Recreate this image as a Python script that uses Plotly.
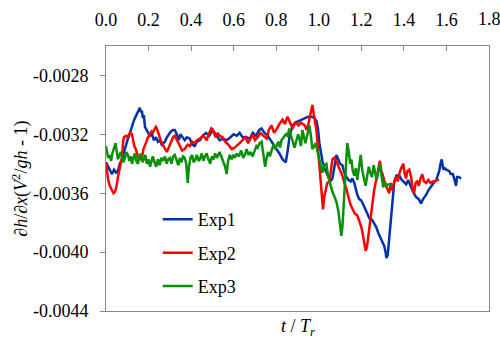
import plotly.graph_objects as go

# ---------------- data ----------------
t1 = [0.000,0.010,0.020,0.028,0.038,0.048,0.056,0.065,0.075,0.082,0.089,0.096,0.103,0.113,0.122,0.130,0.136,0.142,0.150,0.155,
      0.159,0.164,0.169,0.173,0.178,0.183,0.190,0.197,0.206,0.216,0.225,0.235,0.244,0.253,0.262,0.270,0.277,0.286,0.295,0.305,
      0.315,0.323,0.333,0.342,0.350,0.360,0.370,0.380,0.394,0.405,0.417,0.427,0.441,0.455,0.470,0.485,0.502,0.515,0.534,0.550,
      0.567,0.585,0.600,0.615,0.628,0.642,0.660,0.675,0.690,0.705,0.720,0.731,0.745,0.760,0.769,0.780,0.800,0.815,0.830,0.845,
      0.855,0.862,0.877,0.890,0.905,0.920,0.935,0.950,0.965,0.980,0.989,0.996,1.003,1.010,1.017,1.027,1.036,1.045,1.055,1.064,
      1.073,1.083,1.092,1.100,1.111,1.120,1.130,1.140,1.150,1.158,1.167,1.175,1.181,1.190,1.200,1.210,1.220,1.228,1.238,1.250,
      1.261,1.270,1.280,1.290,1.300,1.308,1.314,1.318,1.324,1.330,1.336,1.341,1.345,1.350,1.355,1.365,1.378,1.390,1.402,1.411,
      1.420,1.430,1.440,1.450,1.460,1.470,1.481,1.490,1.505,1.515,1.528,1.540,1.552,1.560,1.566,1.572,1.578,1.585,1.592,1.600,
      1.613,1.620,1.630,1.640,1.645,1.650,1.658,1.669]
v1 = [-3.39,-3.42,-3.45,-3.47,-3.44,-3.46,-3.45,-3.40,-3.37,-3.33,-3.31,-3.25,-3.23,-3.19,-3.14,-3.11,-3.09,-3.07,-3.05,-3.03,
      -3.02,-3.05,-3.04,-3.09,-3.07,-3.15,-3.17,-3.19,-3.21,-3.20,-3.24,-3.22,-3.25,-3.24,-3.27,-3.26,-3.25,-3.22,-3.20,-3.18,
      -3.17,-3.17,-3.20,-3.24,-3.20,-3.22,-3.24,-3.22,-3.23,-3.27,-3.28,-3.25,-3.24,-3.21,-3.19,-3.21,-3.17,-3.20,-3.24,-3.23,
      -3.24,-3.22,-3.20,-3.21,-3.19,-3.22,-3.22,-3.23,-3.19,-3.21,-3.17,-3.16,-3.19,-3.21,-3.23,-3.25,-3.30,-3.33,-3.37,-3.39,
      -3.30,-3.22,-3.14,-3.12,-3.11,-3.10,-3.09,-3.08,-3.08,-3.09,-3.11,-3.16,-3.26,-3.33,-3.38,-3.43,-3.46,-3.49,-3.52,-3.50,
      -3.42,-3.34,-3.37,-3.40,-3.41,-3.46,-3.49,-3.51,-3.52,-3.50,-3.53,-3.58,-3.61,-3.64,-3.65,-3.68,-3.71,-3.74,-3.77,-3.78,
      -3.81,-3.83,-3.87,-3.90,-3.94,-3.96,-4.00,-4.04,-4.02,-3.93,-3.84,-3.76,-3.68,-3.60,-3.52,-3.48,-3.48,-3.51,-3.53,-3.54,
      -3.51,-3.55,-3.58,-3.61,-3.63,-3.64,-3.67,-3.64,-3.61,-3.58,-3.55,-3.53,-3.51,-3.47,-3.45,-3.40,-3.37,-3.44,-3.43,-3.44,
      -3.45,-3.47,-3.47,-3.52,-3.55,-3.49,-3.49,-3.50]

t2 = [0.000,0.005,0.010,0.018,0.028,0.035,0.042,0.050,0.056,0.065,0.075,0.080,0.084,0.092,0.100,0.108,0.115,0.122,0.127,0.133,
      0.140,0.145,0.152,0.160,0.169,0.176,0.183,0.190,0.197,0.206,0.214,0.220,0.228,0.234,0.239,0.248,0.257,0.267,0.277,0.286,
      0.295,0.305,0.315,0.323,0.333,0.347,0.358,0.370,0.384,0.394,0.405,0.417,0.427,0.441,0.455,0.464,0.473,0.485,0.495,0.502,
      0.515,0.525,0.534,0.548,0.560,0.575,0.591,0.605,0.614,0.628,0.642,0.655,0.668,0.680,0.690,0.700,0.713,0.725,0.740,0.755,
      0.765,0.778,0.790,0.800,0.815,0.830,0.840,0.853,0.865,0.877,0.890,0.905,0.915,0.925,0.935,0.942,0.950,0.958,0.965,0.970,
      0.976,0.983,0.989,0.994,1.000,1.005,1.010,1.015,1.020,1.026,1.033,1.040,1.050,1.058,1.064,1.072,1.083,1.090,1.100,1.111,
      1.120,1.130,1.140,1.150,1.160,1.170,1.181,1.192,1.200,1.207,1.214,1.220,1.226,1.232,1.238,1.245,1.252,1.260,1.270,1.280,
      1.287,1.294,1.300,1.310,1.320,1.331,1.338,1.345,1.355,1.364,1.372,1.380,1.390,1.397,1.404,1.410,1.416,1.425,1.434,1.440,
      1.448,1.455,1.463,1.470,1.478,1.486,1.495,1.505,1.515,1.525,1.535,1.545,1.556,1.566]
v2 = [-3.39,-3.45,-3.51,-3.55,-3.58,-3.60,-3.59,-3.55,-3.49,-3.42,-3.36,-3.26,-3.22,-3.21,-3.22,-3.20,-3.19,-3.20,-3.25,-3.28,
      -3.30,-3.32,-3.36,-3.37,-3.36,-3.30,-3.28,-3.25,-3.22,-3.20,-3.18,-3.19,-3.16,-3.15,-3.16,-3.21,-3.24,-3.27,-3.30,-3.32,
      -3.29,-3.25,-3.22,-3.21,-3.24,-3.28,-3.31,-3.30,-3.27,-3.28,-3.25,-3.26,-3.24,-3.23,-3.21,-3.22,-3.24,-3.19,-3.16,-3.17,
      -3.22,-3.19,-3.21,-3.22,-3.25,-3.27,-3.30,-3.29,-3.28,-3.26,-3.24,-3.22,-3.26,-3.23,-3.20,-3.24,-3.22,-3.19,-3.21,-3.23,
      -3.17,-3.14,-3.19,-3.17,-3.13,-3.10,-3.13,-3.08,-3.12,-3.16,-3.12,-3.14,-3.12,-3.13,-3.14,-3.17,-3.14,-3.08,-3.02,-3.00,
      -3.06,-3.12,-3.17,-3.26,-3.36,-3.47,-3.55,-3.65,-3.71,-3.62,-3.58,-3.53,-3.52,-3.42,-3.37,-3.36,-3.38,-3.41,-3.44,-3.48,
      -3.53,-3.57,-3.63,-3.68,-3.71,-3.74,-3.75,-3.79,-3.83,-3.88,-3.93,-3.99,-3.97,-3.90,-3.82,-3.74,-3.66,-3.58,-3.51,-3.43,
      -3.38,-3.45,-3.47,-3.53,-3.57,-3.60,-3.53,-3.58,-3.52,-3.49,-3.52,-3.46,-3.42,-3.40,-3.47,-3.50,-3.45,-3.44,-3.49,-3.56,
      -3.60,-3.53,-3.52,-3.55,-3.50,-3.47,-3.52,-3.53,-3.51,-3.53,-3.52,-3.52,-3.51,-3.51]

t3 = [0.000,0.005,0.010,0.017,0.024,0.030,0.038,0.045,0.052,0.056,0.063,0.070,0.075,0.082,0.089,0.096,0.103,0.110,0.117,0.122,
      0.129,0.136,0.142,0.150,0.157,0.164,0.172,0.178,0.185,0.192,0.200,0.207,0.214,0.220,0.228,0.236,0.244,0.252,0.260,0.268,
      0.277,0.285,0.292,0.300,0.308,0.315,0.323,0.331,0.340,0.347,0.355,0.362,0.370,0.377,0.384,0.390,0.397,0.405,0.412,0.420,
      0.427,0.435,0.441,0.450,0.458,0.465,0.473,0.481,0.490,0.497,0.505,0.513,0.521,0.534,0.542,0.550,0.560,0.567,0.574,0.582,
      0.590,0.598,0.606,0.614,0.625,0.635,0.645,0.655,0.661,0.670,0.680,0.689,0.698,0.707,0.713,0.722,0.731,0.740,0.748,0.755,
      0.762,0.770,0.778,0.787,0.795,0.802,0.810,0.818,0.825,0.835,0.845,0.853,0.862,0.870,0.877,0.886,0.895,0.903,0.909,0.916,
      0.923,0.930,0.937,0.942,0.949,0.956,0.962,0.970,0.978,0.985,0.993,1.003,1.010,1.017,1.025,1.036,1.043,1.050,1.058,1.064,
      1.073,1.083,1.092,1.097,1.102,1.106,1.111,1.116,1.120,1.125,1.130,1.134,1.140,1.148,1.153,1.160,1.167,1.174,1.181,1.190,
      1.197,1.205,1.212,1.220,1.228,1.235,1.242,1.250,1.258,1.265,1.272,1.280,1.288,1.295,1.303,1.310,1.318,1.325,1.331,1.340]
v3 = [-3.28,-3.31,-3.36,-3.34,-3.38,-3.33,-3.30,-3.26,-3.33,-3.37,-3.34,-3.32,-3.36,-3.39,-3.36,-3.32,-3.34,-3.38,-3.35,-3.40,
      -3.36,-3.33,-3.38,-3.40,-3.35,-3.33,-3.39,-3.36,-3.34,-3.40,-3.37,-3.42,-3.37,-3.35,-3.39,-3.42,-3.37,-3.41,-3.36,-3.38,
      -3.35,-3.40,-3.37,-3.36,-3.40,-3.35,-3.34,-3.38,-3.41,-3.36,-3.39,-3.35,-3.36,-3.40,-3.53,-3.42,-3.36,-3.34,-3.39,-3.37,
      -3.34,-3.38,-3.37,-3.33,-3.38,-3.35,-3.33,-3.37,-3.40,-3.35,-3.37,-3.33,-3.36,-3.32,-3.35,-3.38,-3.42,-3.47,-3.38,-3.34,
      -3.37,-3.34,-3.36,-3.33,-3.35,-3.31,-3.36,-3.33,-3.30,-3.34,-3.32,-3.35,-3.31,-3.28,-3.29,-3.26,-3.25,-3.36,-3.42,-3.36,
      -3.32,-3.35,-3.31,-3.27,-3.30,-3.28,-3.25,-3.29,-3.24,-3.22,-3.20,-3.21,-3.16,-3.21,-3.24,-3.29,-3.24,-3.20,-3.23,-3.28,
      -3.17,-3.22,-3.26,-3.23,-3.19,-3.14,-3.20,-3.30,-3.28,-3.26,-3.31,-3.38,-3.41,-3.46,-3.41,-3.40,-3.48,-3.52,-3.56,-3.59,
      -3.62,-3.66,-3.72,-3.77,-3.83,-3.89,-3.83,-3.71,-3.62,-3.49,-3.37,-3.26,-3.31,-3.40,-3.37,-3.45,-3.48,-3.43,-3.51,-3.40,
      -3.34,-3.45,-3.50,-3.55,-3.48,-3.42,-3.46,-3.49,-3.41,-3.47,-3.51,-3.45,-3.40,-3.48,-3.56,-3.52,-3.55,-3.54,-3.54,-3.55]

series_names = ["Exp1", "Exp2", "Exp3"]
series_colors = ["#0032A8", "#FF0000", "#0A900A"]
y_tick_vals = [-0.0044, -0.0040, -0.0036, -0.0032, -0.0028]
y_tick_text = ["-0.0044", "-0.0040", "-0.0036", "-0.0032", "-0.0028"]
x_tick_vals = [0.0, 0.2, 0.4, 0.6, 0.8, 1.0, 1.2, 1.4, 1.6, 1.8]
x_tick_text = ["0.0", "0.2", "0.4", "0.6", "0.8", "1.0", "1.2", "1.4", "1.6", "1.8"]

FONT = "Times New Roman"
AX = "#888888"

fig = go.Figure()
for i, (tt, vv) in enumerate([(t1, v1), (t2, v2), (t3, v3)]):
    fig.add_trace(go.Scatter(
        x=tt, y=[v * 1e-3 for v in vv], mode="lines", name=series_names[i],
        legendgroup=series_names[i],
        line=dict(color=series_colors[i], width=2.5),
    ))

fig.update_layout(
    width=500, height=343,
    margin=dict(l=106, r=10, t=42, b=32),
    paper_bgcolor="white", plot_bgcolor="white",
    font=dict(family=FONT, size=18, color="black"),
    showlegend=True,
    legend=dict(x=0.135, y=0.415, xanchor="left", yanchor="top",
                bgcolor="rgba(0,0,0,0)", font=dict(family=FONT, size=18),
                tracegroupgap=7, itemwidth=30),
    xaxis=dict(range=[0, 1.8], side="top", tickvals=x_tick_vals[:-1], ticktext=x_tick_text[:-1],
               ticks="inside", ticklen=5, tickcolor=AX, showline=True, linecolor=AX,
               linewidth=1, mirror=True, showgrid=False, zeroline=False,
               ticklabelstandoff=12, tickfont=dict(family=FONT, size=18)),
    yaxis=dict(range=[-0.0044, -0.0026], tickvals=y_tick_vals, ticktext=y_tick_text,
               ticks="outside", ticklen=5, tickcolor=AX, showline=True, linecolor=AX,
               linewidth=1, mirror=True, showgrid=False, zeroline=False,
               ticklabelstandoff=8, tickfont=dict(family=FONT, size=18)),
    annotations=[
        dict(text=x_tick_text[-1], xref="x", x=x_tick_vals[-1],
             yref="paper", y=1 + 27 / 269, xanchor="center", yanchor="middle",
             showarrow=False, font=dict(family=FONT, size=18)),
        dict(text="∂<i>h</i>/∂<i>x</i>(<i>V</i><sup>2</sup>/<i>gh</i> - 1)",
             xref="paper", yref="paper", x=(20 - 106) / 384, y=0.5,
             xanchor="center", yanchor="middle", textangle=-90, showarrow=False,
             font=dict(family=FONT, size=18)),
        dict(text="<i>t</i> / <i>T<sub>r</sub></i>",
             xref="paper", yref="paper", x=0.5, y=-17 / 269,
             xanchor="center", yanchor="middle", showarrow=False,
             font=dict(family=FONT, size=18)),
    ],
)

fig.write_html("out.html")
